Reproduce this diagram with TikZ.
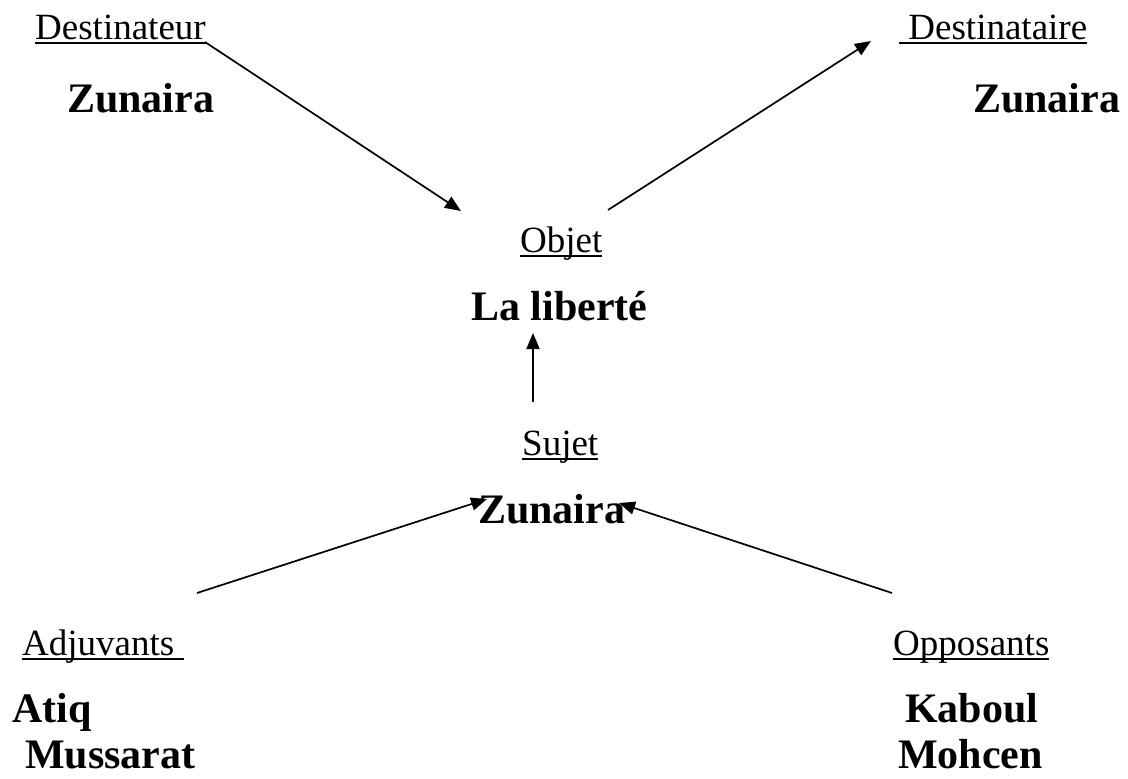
\documentclass[tikz,border=0pt]{standalone}
\usepackage{fontspec}
\setmainfont{Liberation Serif}
\usetikzlibrary{arrows.meta}

% underline drawn as a rule just under the baseline (descenders cross it)
\newcommand\roleline[1]{\setbox0\hbox{#1}\rlap{\rule[-5pt]{\wd0}{1.8pt}}\box0}

\tikzset{
  role/.style={anchor=base west, inner sep=0pt, font=\fontsize{37}{44}\selectfont},
  actor/.style={anchor=base west, inner sep=0pt, font=\fontsize{42}{50}\selectfont\bfseries},
  link/.style={line width=1.7pt, -{Triangle[length=16pt,width=13pt]}}
}

\begin{document}
\begin{tikzpicture}[x=1pt, y=-1pt]
  \useasboundingbox (0,0) rectangle (1128,779);

  % actantial roles and their holders
  \node[role]  (dtor)    at (35,39)   {\roleline{Destinateur}};
  \node[actor] (dtorN)   at (67,112)  {Zunaira};
  \node[role]  (dtaire)  at (899,39)  {\roleline{\ Destinataire}};
  \node[actor] (dtaireN) at (973,112) {Zunaira};
  \node[role]  (obj)     at (520,252) {\roleline{Objet}};
  \node[actor] (objN)    at (471,320) {La liberté};
  \node[role]  (suj)     at (522,455) {\roleline{Sujet}};
  \node[actor] (sujN)    at (478,523) {Zunaira};
  \node[role]  (adj)     at (22,655)  {\roleline{Adjuvants\ }};
  \node[actor] (adjA)    at (12,722)  {Atiq};
  \node[actor] (adjB)    at (25,768)  {Mussarat};
  \node[role]  (opp)     at (893,655) {\roleline{Opposants}};
  \node[actor] (oppA)    at (905,722) {Kaboul};
  \node[actor] (oppB)    at (898,768) {Mohcen};

  % arrow ends
  \coordinate (dtorOut)  at (205,42);
  \coordinate (objIn)    at (461,211);
  \coordinate (objOut)   at (608,210);
  \coordinate (dtaireIn) at (871,41);
  \coordinate (sujOut)   at (533,402);
  \coordinate (objUp)    at (533,333);
  \coordinate (adjOut)   at (197,593);
  \coordinate (sujInL)   at (487,499);
  \coordinate (oppOut)   at (892,593);
  \coordinate (sujInR)   at (619,503);

  \draw[link] (dtorOut) -- (objIn);
  \draw[link] (objOut) -- (dtaireIn);
  \draw[link] (sujOut) -- (objUp);
  \draw[link] (adjOut) -- (sujInL);
  \draw[link] (oppOut) -- (sujInR);
\end{tikzpicture}
\end{document}
